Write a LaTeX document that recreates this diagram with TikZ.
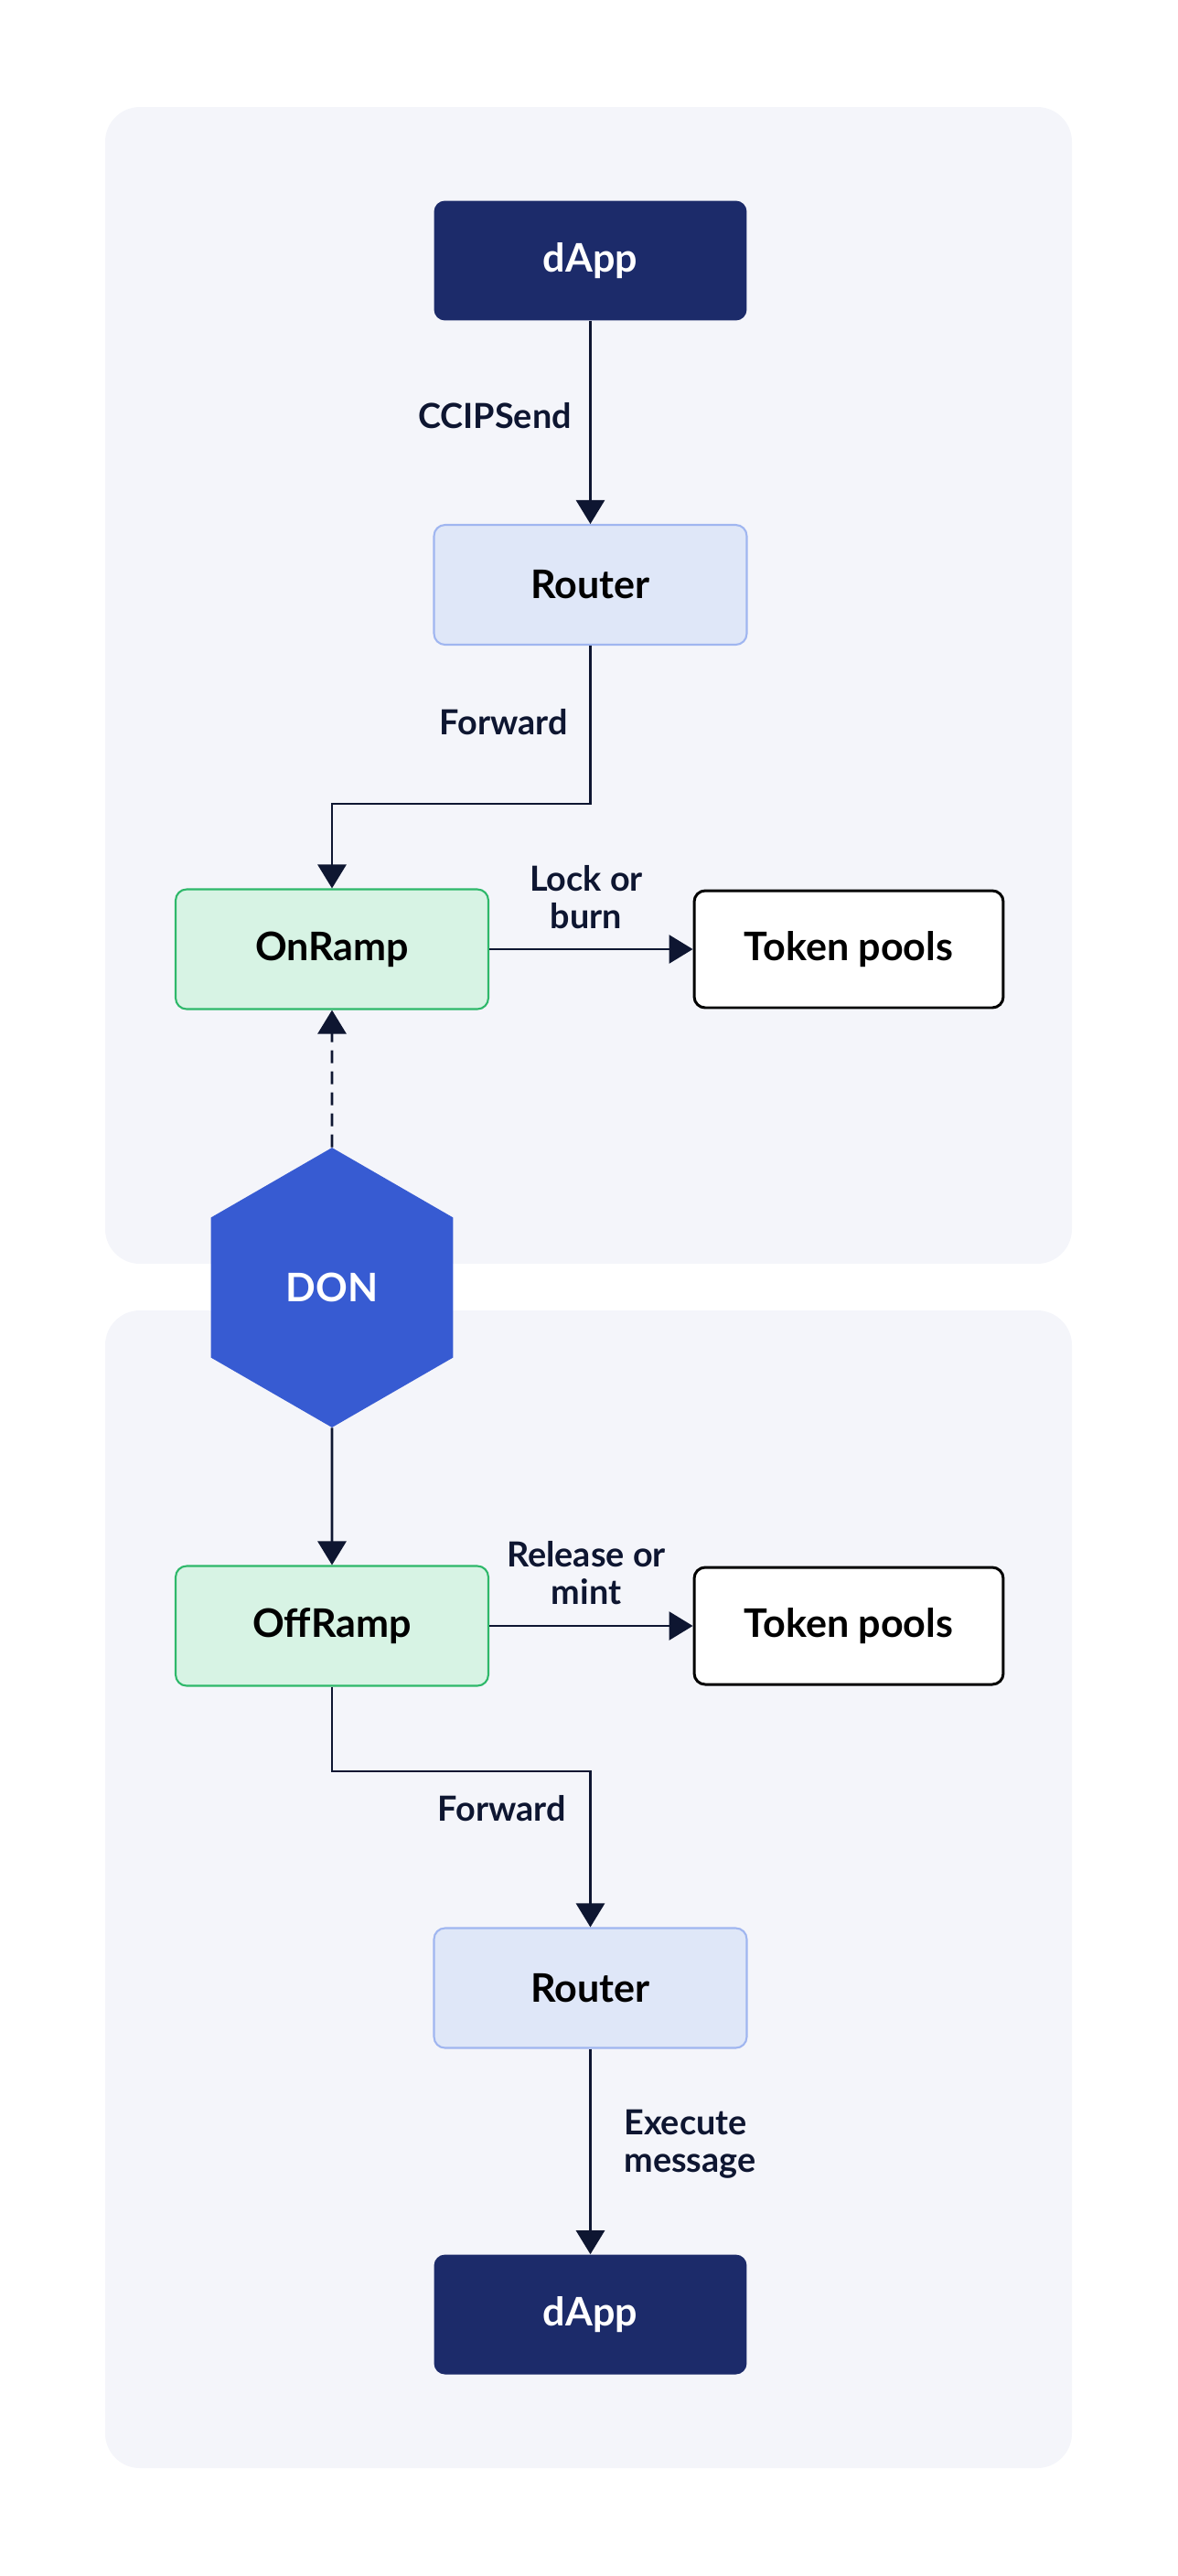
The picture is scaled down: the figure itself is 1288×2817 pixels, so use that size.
\documentclass[tikz,border=0pt]{standalone}
\usepackage{fontspec}
\setmainfont{Lato}
\usetikzlibrary{arrows.meta,shapes.geometric}

\definecolor{panelbg}{HTML}{F4F5FA}
\definecolor{dappblue}{HTML}{1C2B6A}
\definecolor{donblue}{HTML}{375BD2}
\definecolor{routerfill}{HTML}{DFE7F8}
\definecolor{routerline}{HTML}{A0B6F0}
\definecolor{rampfill}{HTML}{D7F3E4}
\definecolor{rampline}{HTML}{2EB86A}
\definecolor{inkdark}{HTML}{0E1631}

\begin{document}
\begin{tikzpicture}[x=0.02cm,y=-0.02cm,
    box/.style={rectangle,rounded corners=0.24cm,minimum width=6.84cm,minimum height=2.62cm,
        font=\fontsize{24.5}{28}\selectfont\bfseries},
    dapp/.style={box,fill=dappblue,text=white},
    router/.style={box,fill=routerfill,draw=routerline,line width=1.2pt},
    ramp/.style={box,fill=rampfill,draw=rampline,line width=1.2pt},
    pools/.style={box,fill=white,draw=black,line width=1.7pt,minimum width=6.76cm,minimum height=2.56cm},
    don/.style={regular polygon,regular polygon sides=6,shape border rotate=30,minimum size=6.12cm,
        inner sep=0pt,fill=donblue,text=white,font=\fontsize{24.5}{28}\selectfont\bfseries},
    lbl/.style={text=inkdark,font=\fontsize{21.5}{23.5}\selectfont\bfseries,inner sep=0pt},
    arr/.style={draw=inkdark,line width=1.6pt,-{Triangle[width=0.62cm,length=0.52cm]}},
]
    \useasboundingbox (0,0) rectangle (1288,2817);
    \fill[panelbg,rounded corners=0.76cm] (115,117) rectangle (1172,1382);
    \fill[panelbg,rounded corners=0.76cm] (115,1433) rectangle (1172,2699);

    \node[dapp] (dapp1) at (645.5,285) {dApp};
    \node[router] (router1) at (645.5,639.5) {Router};
    \node[ramp] (onramp) at (363,1038) {OnRamp};
    \node[pools] (pools1) at (928,1038) {Token pools};
    \node[don] (don) at (363,1408) {DON};
    \node[ramp] (offramp) at (363,1778) {OffRamp};
    \node[pools] (pools2) at (928,1778) {Token pools};
    \node[router] (router2) at (645.5,2174) {Router};
    \node[dapp] (dapp2) at (645.5,2531) {dApp};

    \coordinate (fwd1) at (363,879);
    \coordinate (fwd2) at (645.5,1937);

    \draw[arr] (dapp1) -- (router1);
    \draw[arr] (router1.south) |- (fwd1) -- (onramp.north);
    \draw[arr] (onramp) -- (pools1);
    \draw[arr,dash pattern=on 0.28cm off 0.18cm] (don.north) -- (onramp.south);
    \draw[arr] (don.south) -- (offramp.north);
    \draw[arr] (offramp) -- (pools2);
    \draw[arr] (offramp.south) |- (fwd2) -- (router2.north);
    \draw[arr] (router2) -- (dapp2);

    \node[lbl,anchor=east] (send) at (625,455) {CCIPSend};
    \node[lbl,anchor=east] (fwdtop) at (621,790) {Forward};
    \node[lbl,align=center] (lock) at (641,981) {Lock or\\burn};
    \node[lbl,align=center] (release) at (641,1720) {Release or\\mint};
    \node[lbl,anchor=east] (fwdbot) at (619,1978) {Forward};
    \node[lbl,align=left,anchor=west] (exec) at (682,2345) {Execute\\message};
\end{tikzpicture}
\end{document}
